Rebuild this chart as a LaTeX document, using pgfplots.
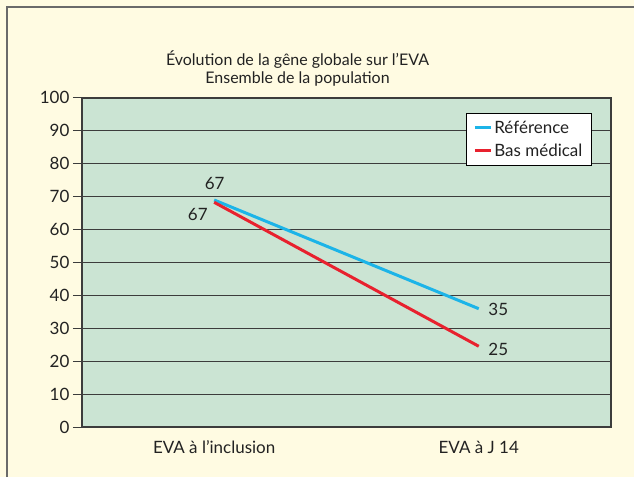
\documentclass[border=0pt]{standalone}
\usepackage{pgfplots}
\pgfplotsset{compat=1.18}
\usepackage{fontspec}
\setmainfont{Lato}
\definecolor{cream}{HTML}{FFFBE2}
\definecolor{plotbg}{HTML}{CBE4D3}
\definecolor{frameg}{HTML}{6A6A6A}
\definecolor{gridc}{HTML}{3C3C3C}
\definecolor{blueL}{HTML}{1CB4E8}
\definecolor{redL}{HTML}{E8212E}
\definecolor{txt}{HTML}{222222}
\newcommand{\fs}[1]{\fontsize{#1bp}{#1bp}\selectfont}
\begin{document}
\begin{tikzpicture}
\fill[cream] (0bp,0bp) rectangle (635bp,478bp);
\draw[frameg, line width=2bp] (7.5bp,0bp) -- (7.5bp,471bp) -- (635bp,471bp);
\node[anchor=base, text=txt, font=\fs{16}] at (298bp,412bp) {Évolution de la gêne globale sur l'EVA};
\node[anchor=base, text=txt, font=\fs{16}] at (298bp,394bp) {Ensemble de la population};
\begin{axis}[
  at={(82bp,50bp)}, anchor=south west, scale only axis,
  width=530bp, height=330bp,
  xmin=-0.5, xmax=1.5, ymin=0, ymax=100,
  xtick={0,1}, xticklabels={EVA à l'inclusion, EVA à J 14},
  ytick={0,10,...,100},
  ytick pos=left,
  major x tick style={draw=none},
  tick align=outside,
  major tick length=9bp,
  ytick style={draw=gridc, line width=1.2bp},
  ymajorgrids,
  grid style={draw=gridc, line width=1.2bp},
  axis line style={draw=gridc, line width=2bp},
  axis background/.style={fill=plotbg},
  /pgf/number format/assume math mode=true,
  tick label style={font=\fs{17}, text=txt},
  xticklabel style={yshift=-1bp},
  legend style={at={(0.726,0.955)}, anchor=north west, draw=black, fill=white,
    line width=0.8bp, font=\fs{17}, text=txt, cells={anchor=west},
    inner xsep=7bp, inner ysep=6bp, row sep=5bp},
  legend image code/.code={\draw[#1, line width=3bp] (0,0) -- (16bp,0);},
]
\addplot[blueL, line width=3bp] coordinates {(0,69) (1,36)};
\addlegendentry{Référence}
\addplot[redL, line width=3bp] coordinates {(0,68.3) (1,24.6)};
\addlegendentry{Bas médical}
\node[font=\fs{17}, text=txt] at (axis cs:0.002,73.9) {67};
\node[font=\fs{17}, text=txt] at (axis cs:-0.062,64.5) {67};
\node[font=\fs{17}, text=txt] at (axis cs:1.074,35.8) {35};
\node[font=\fs{17}, text=txt] at (axis cs:1.074,23.6) {25};
\end{axis}
\useasboundingbox (0bp,0bp) rectangle (635bp,478bp);
\end{tikzpicture}
\end{document}
